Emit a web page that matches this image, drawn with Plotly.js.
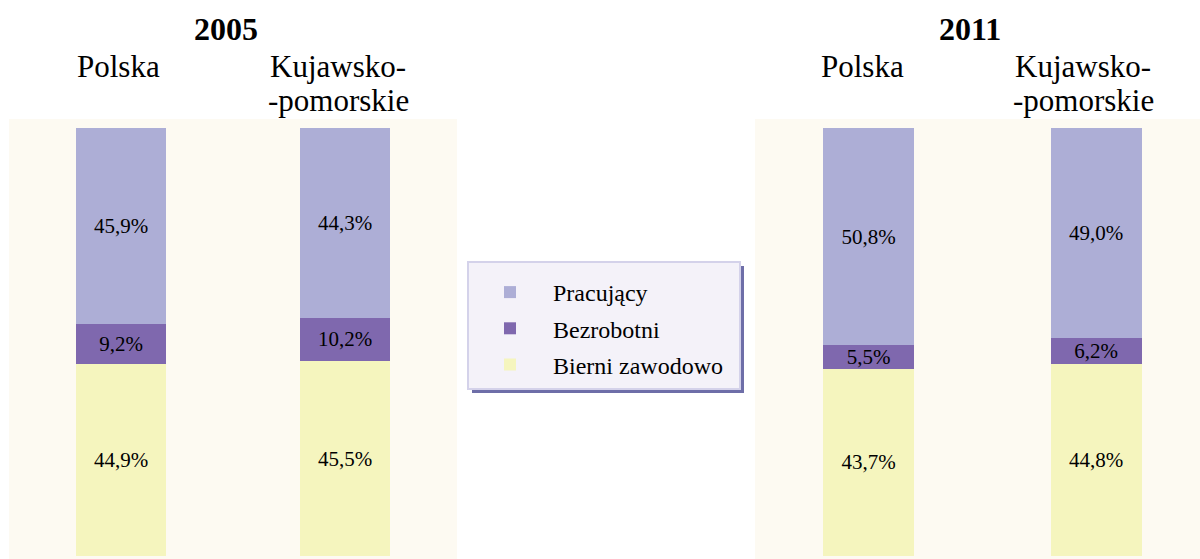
<!DOCTYPE html>
<html>
<head>
<meta charset="utf-8">
<script src="https://cdn.plot.ly/plotly-3.0.1.min.js"></script>
<style>html,body{margin:0;padding:0;background:#fff;}#chart{width:1200px;height:559px;}</style>
</head>
<body>
<div id="chart"></div>
<script>
// ---- data ----
var years = ['2005', '2011'];
var categories = ['Polska', 'Kujawsko-pomorskie'];
var categoryLabelLines = [['Polska'], ['Kujawsko-', '-pomorskie']];
var seriesNames = ['Bierni zawodowo', 'Bezrobotni', 'Pracujący'];
var legendRanks = [3, 2, 1];
var bierni2005 = [44.9, 45.5];
var bezrobotni2005 = [9.2, 10.2];
var pracujacy2005 = [45.9, 44.3];
var bierni2011 = [43.7, 44.8];
var bezrobotni2011 = [5.5, 6.2];
var pracujacy2011 = [50.8, 49.0];

// ---- styles ----
var colors = ['#f5f5be', '#7f68ae', '#adaed6'];
var FONT = 'Liberation Serif, serif';
var W = 1200, H = 559, T = 119;
function px(x) { return x / W; }
function py(y) { return (H - y) / (H - T); }

var valuesByYear = [
  [bierni2005, bezrobotni2005, pracujacy2005],
  [bierni2011, bezrobotni2011, pracujacy2011]
];

var traces = [];
valuesByYear.forEach(function (vals, yi) {
  vals.forEach(function (v, si) {
    traces.push({
      type: 'bar',
      x: categories,
      y: v,
      name: seriesNames[si],
      legendgroup: 'g' + si,
      legendrank: legendRanks[si],
      showlegend: yi === 0,
      xaxis: yi === 0 ? 'x' : 'x2',
      yaxis: yi === 0 ? 'y' : 'y2',
      width: 0.4,
      marker: { color: colors[si], line: { width: 0 } },
      texttemplate: '%{y:.1f}%',
      textposition: 'inside',
      insidetextanchor: 'middle',
      constraintext: 'none',
      textangle: 0,
      textfont: { family: FONT, size: 21, color: '#000' },
      hoverinfo: 'name+y'
    });
  });
});

var axBase = { showgrid: false, zeroline: false, showticklabels: false, ticks: '', showline: false, fixedrange: true };
var layout = {
  width: W, height: H,
  margin: { l: 0, r: 0, t: T, b: 0, pad: 0 },
  paper_bgcolor: '#ffffff',
  plot_bgcolor: '#fdfaf2',
  barmode: 'stack',
  separators: ', ',
  font: { family: FONT, color: '#000' },
  xaxis: Object.assign({}, axBase, { domain: [px(9), px(457)], range: [-0.5, 1.5], type: 'category', categoryorder: 'array', categoryarray: categories, anchor: 'y' }),
  yaxis: Object.assign({}, axBase, { range: [-0.70, 102.10], anchor: 'x' }),
  xaxis2: Object.assign({}, axBase, { domain: [px(755), 1], range: [-0.5, 1.457], type: 'category', categoryorder: 'array', categoryarray: categories, anchor: 'y2' }),
  yaxis2: Object.assign({}, axBase, { range: [-0.70, 102.10], anchor: 'x2' }),
  showlegend: true,
  legend: {
    x: px(467), y: py(270), xanchor: 'left', yanchor: 'top',
    bgcolor: 'rgba(0,0,0,0)', borderwidth: 0,
    font: { family: FONT, size: 24, color: '#000' },
    traceorder: 'grouped', tracegroupgap: 2,
    itemwidth: 76, itemclick: false, itemdoubleclick: false
  },
  shapes: [
    { type: 'rect', xref: 'paper', yref: 'paper', x0: px(472), x1: px(744), y0: py(266), y1: py(393), fillcolor: '#6e6ea8', line: { width: 0 }, layer: 'above' },
    { type: 'rect', xref: 'paper', yref: 'paper', x0: px(468), x1: px(740), y0: py(262), y1: py(389), fillcolor: '#f4f2f9', line: { width: 2, color: '#d4d2ea' }, layer: 'above' }
  ],
  annotations: []
};

var yearCenters = [225.5, 970];
years.forEach(function (yr, yi) {
  layout.annotations.push({
    text: '<b>' + yr + '</b>', xref: 'paper', yref: 'paper', x: px(yearCenters[yi]), y: py(29),
    xanchor: 'center', yanchor: 'middle', showarrow: false,
    font: { family: FONT, size: 32, color: '#000' }
  });
});
var labelShifts = [[-3, -7], [-6, -13]];
var lineCenters = [66, 101];
years.forEach(function (yr, yi) {
  categories.forEach(function (c, ci) {
    categoryLabelLines[ci].forEach(function (line, li) {
      layout.annotations.push({
        text: line, xref: yi === 0 ? 'x' : 'x2', yref: 'paper', x: c, y: py(lineCenters[li]),
        xanchor: 'center', yanchor: 'middle', showarrow: false, xshift: labelShifts[yi][ci],
        font: { family: FONT, size: 31, color: '#000' }
      });
    });
  });
});

Plotly.newPlot('chart', traces, layout, { displayModeBar: false, responsive: false });
</script>
</body>
</html>
